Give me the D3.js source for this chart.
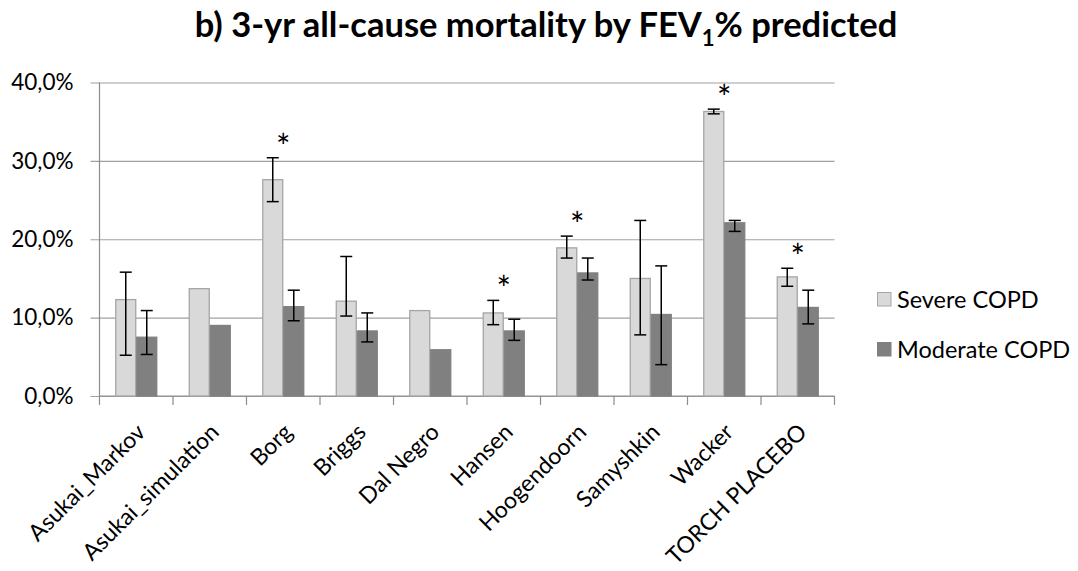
<!DOCTYPE html>
<html>
<head>
<meta charset="utf-8">
<script src="https://cdn.jsdelivr.net/npm/d3@7"></script>
<style>
  html, body { margin: 0; padding: 0; background: #fff; }
  svg { display: block; font-family: Lato, "Open Sans", sans-serif; }
</style>
</head>
<body>
<svg id="chart" width="1078" height="571"></svg>
<script>
// Studies on the x axis
const categories = ["Asukai_Markov", "Asukai_simulation", "Borg", "Briggs", "Dal Negro",
                    "Hansen", "Hoogendoorn", "Samyshkin", "Wacker", "TORCH PLACEBO"];

// 3-year all-cause mortality (%), severe COPD, with interval bounds
const severe     = [12.3, 13.7, 27.6, 12.1, 10.9, 10.6, 18.9, 15.0, 36.3, 15.2];
const severeLow  = [5.2, null, 24.8, 10.2, null, 9.1, 17.6, 7.8, 36.0, 14.0];
const severeHigh = [15.8, null, 30.4, 17.8, null, 12.2, 20.4, 22.4, 36.6, 16.3];

// 3-year all-cause mortality (%), moderate COPD, with interval bounds
const moderate     = [7.5, 9.0, 11.4, 8.3, 5.9, 8.3, 15.7, 10.4, 22.1, 11.3];
const moderateLow  = [5.3, null, 9.6, 6.9, null, 7.1, 14.8, 4.0, 21.0, 9.2];
const moderateHigh = [10.9, null, 13.5, 10.6, null, 9.8, 17.6, 16.6, 22.4, 13.5];

// Studies with a significant severe vs moderate difference
const significant = [false, false, true, false, false, true, true, false, true, true];

const seriesNames = ["Severe COPD", "Moderate COPD"];
const yTicks = [0, 10, 20, 30, 40];

const series = [
  { name: seriesNames[0], values: severe, low: severeLow, high: severeHigh, fill: "#d9d9d9", stroke: "#a6a6a6" },
  { name: seriesNames[1], values: moderate, low: moderateLow, high: moderateHigh, fill: "#808080", stroke: "#808080" }
];

const svg = d3.select("#chart");
const plot = { left: 99.5, right: 834.5, top: 82.5, bottom: 396 };

const x = d3.scaleBand().domain(categories).range([plot.left, plot.right]).paddingInner(0).paddingOuter(0);
const inner = d3.scaleBand().domain(seriesNames).range([0, x.bandwidth()]).paddingOuter(0.75).paddingInner(0);
const y = d3.scaleLinear().domain([0, 40]).range([plot.bottom, plot.top]);

const fmt = v => v.toFixed(1).replace(".", ",") + "%";
const gridColor = "#a0a0a0";
const axisColor = "#8c8c8c";

// Title with subscript
const title = svg.append("text")
  .attr("x", 546).attr("y", 37)
  .attr("text-anchor", "middle")
  .attr("font-weight", "bold")
  .attr("font-size", 34.5)
  .attr("fill", "#000");
title.append("tspan").text("b) 3-yr all-cause mortality by FEV");
title.append("tspan").attr("font-size", 22).attr("dy", 9).text("1");
title.append("tspan").attr("dy", -9).text("% predicted");

// Horizontal gridlines and y axis labels
const yAxis = d3.axisLeft(y).tickValues(yTicks).tickFormat(fmt)
  .tickSize(-(plot.right - plot.left)).tickSizeOuter(0).tickPadding(26);
const gy = svg.append("g").attr("transform", `translate(${plot.left},0)`).call(yAxis);
gy.select(".domain").remove();
gy.selectAll(".tick line").attr("stroke", gridColor).attr("x1", -9).attr("stroke-width", 1.2);
gy.selectAll(".tick text").attr("font-size", 22.5).attr("fill", "#000")
  .attr("font-family", "Lato, sans-serif");

// Vertical axis line
svg.append("line")
  .attr("x1", plot.left).attr("x2", plot.left)
  .attr("y1", y(40)).attr("y2", plot.bottom + 9)
  .attr("stroke", axisColor).attr("stroke-width", 1.2);

// Category axis with tick marks between studies
const gx = svg.append("g").attr("transform", `translate(0,${plot.bottom})`);
gx.append("line").attr("x1", plot.left).attr("x2", plot.right)
  .attr("stroke", axisColor).attr("stroke-width", 1.2);
gx.selectAll("line.sep")
  .data(categories)
  .join("line").attr("class", "sep")
  .attr("x1", d => x(d) + x.bandwidth()).attr("x2", d => x(d) + x.bandwidth())
  .attr("y1", 0).attr("y2", 9)
  .attr("stroke", axisColor).attr("stroke-width", 1.2);

gx.selectAll("text.cat")
  .data(categories)
  .join("text").attr("class", "cat")
  .attr("text-anchor", "end")
  .attr("font-size", 23)
  .attr("fill", "#000")
  .attr("transform", d => `translate(${x(d) + x.bandwidth() / 2 + 10.5},${37.5}) rotate(-45)`)
  .text(d => d);

// Bars
const groups = svg.append("g").selectAll("g")
  .data(categories)
  .join("g")
  .attr("transform", d => `translate(${x(d)},0)`);

series.forEach(s => {
  groups.append("rect")
    .attr("x", inner(s.name) + 0.5)
    .attr("width", inner.bandwidth() - 1)
    .attr("y", (d, i) => y(s.values[i]))
    .attr("height", (d, i) => plot.bottom - y(s.values[i]))
    .attr("fill", s.fill)
    .attr("stroke", s.stroke)
    .attr("stroke-width", 1.3);
});

// Error bars
const cap = 6;
series.forEach(s => {
  groups.each(function (d, i) {
    if (s.low[i] == null) return;
    const g = d3.select(this);
    const cx = inner(s.name) + inner.bandwidth() / 2;
    const eb = g.append("g").attr("stroke", "#000").attr("stroke-width", 1.5);
    eb.append("line").attr("x1", cx).attr("x2", cx).attr("y1", y(s.low[i])).attr("y2", y(s.high[i]));
    eb.append("line").attr("x1", cx - cap).attr("x2", cx + cap).attr("y1", y(s.low[i])).attr("y2", y(s.low[i]));
    eb.append("line").attr("x1", cx - cap).attr("x2", cx + cap).attr("y1", y(s.high[i])).attr("y2", y(s.high[i]));
  });
});

// Significance markers above the taller interval
groups.each(function (d, i) {
  if (!significant[i]) return;
  const top = d3.max(series, s => s.high[i] != null ? s.high[i] : s.values[i]);
  d3.select(this).append("text")
    .attr("x", x.bandwidth() / 2)
    .attr("y", y(top) - 18 + 19)
    .attr("text-anchor", "middle")
    .attr("font-size", 34)
    .attr("fill", "#000")
    .text("*");
});

// Legend
const legend = svg.append("g").selectAll("g")
  .data(series)
  .join("g")
  .attr("transform", (d, i) => `translate(877,${292 + i * 50})`);
legend.append("rect")
  .attr("x", 0.5).attr("y", 0.5).attr("width", 13.5).attr("height", 13.5)
  .attr("fill", d => d.fill).attr("stroke", d => d.stroke).attr("stroke-width", 1);
legend.append("text")
  .attr("x", 20).attr("y", 7.5).attr("dy", "0.36em")
  .attr("font-size", 23.5).attr("fill", "#000")
  .text(d => d.name);
</script>
</body>
</html>
